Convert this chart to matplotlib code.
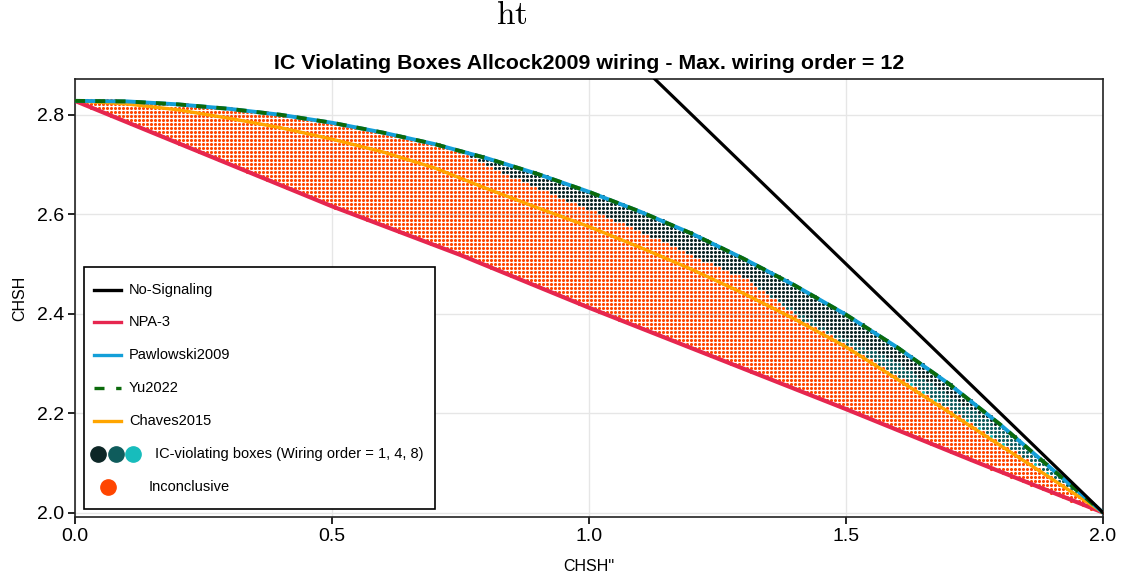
import numpy as np
import matplotlib.pyplot as plt
from matplotlib.patches import Rectangle
from matplotlib.lines import Line2D

plt.rcParams['font.family'] = ['Liberation Sans', 'DejaVu Sans']

# curvas (CHSH'' -> CHSH)
ns_x = [1.0, 2.0]
ns_y = [3.0, 2.0]

npa_x = [0.0, 0.25, 0.5, 0.75, 1.0, 1.25, 1.5, 1.75, 2.0]
npa_y = [2.828, 2.722, 2.616, 2.518, 2.412, 2.310, 2.208, 2.103, 2.000]

paw_x = [0.0, 0.1, 0.2, 0.3, 0.4, 0.5, 0.6, 0.7, 0.8, 0.9, 1.0,
         1.1, 1.2, 1.3, 1.4, 1.5, 1.6, 1.7, 1.8, 1.9, 2.0]
paw_y = [2.828, 2.827, 2.821, 2.812, 2.800, 2.784, 2.764, 2.741, 2.713, 2.681, 2.645,
         2.605, 2.561, 2.511, 2.457, 2.398, 2.332, 2.259, 2.177, 2.088, 2.000]

chaves_x = paw_x
chaves_y = [2.828, 2.822, 2.810, 2.793, 2.774, 2.751, 2.725, 2.693, 2.652, 2.613, 2.575,
            2.533, 2.489, 2.441, 2.389, 2.333, 2.268, 2.202, 2.135, 2.068, 2.000]

# borde inferior de las cajas que violan IC (orden 1, 4, 8)
viol_x = [0.76, 0.8, 0.9, 1.0, 1.1, 1.2, 1.3, 1.36, 1.42, 1.5, 1.6, 1.7, 1.8, 1.9, 2.0]
viol_y = [2.723, 2.697, 2.652, 2.609, 2.565, 2.516, 2.472, 2.430, 2.383, 2.338, 2.273, 2.207, 2.140, 2.072, 2.000]

w1_x = [1.3, 1.45, 1.6, 1.8, 1.95]
w1_y = [2.472, 2.375, 2.300, 2.170, 2.050]

w8_x = [1.6, 1.7, 1.8, 1.9]
w8_y = [2.275, 2.209, 2.142, 2.075]

# malla de cajas muestreadas
dx = 0.00778
dy = 0.00805
gx, gy = np.meshgrid(np.arange(0, 2.0 + 1e-9, dx), np.arange(2.0, 2.83, dy))
gx = gx.ravel()
gy = gy.ravel()
inside = (gy >= np.interp(gx, npa_x, npa_y) - 0.002) & (gy <= np.interp(gx, paw_x, paw_y) + 0.002)
gx = gx[inside]
gy = gy[inside]
viol = (gx >= viol_x[0]) & (gy > np.interp(gx, viol_x, viol_y))
w4 = viol & (gx > w1_x[0]) & (gy < np.interp(gx, w1_x, w1_y, right=9))
w8 = viol & (gx >= w8_x[0]) & (gx <= w8_x[-1]) & (gy < np.interp(gx, w8_x, w8_y))
w4 = w4 & ~w8
w1 = viol & ~w4 & ~w8

col_inc = '#ff4500'
col_w1 = '#0d2626'
col_w4 = '#0f5c5c'
col_w8 = '#17bcbc'

fig = plt.figure(figsize=(11.35, 5.81), dpi=100)
ax = fig.add_axes([75 / 1135, 1 - 517 / 581, 1028 / 1135, 438 / 581])

ms = 5
ax.scatter(gx[~viol], gy[~viol], s=ms, c=col_inc, linewidths=0, zorder=2)
ax.scatter(gx[w1], gy[w1], s=ms, c=col_w1, linewidths=0, zorder=2)
ax.scatter(gx[w4], gy[w4], s=ms, c=col_w4, linewidths=0, zorder=2)
ax.scatter(gx[w8], gy[w8], s=ms, c=col_w8, linewidths=0, zorder=2)

ax.plot(npa_x, npa_y, color='#e6264f', lw=3, zorder=3, solid_capstyle='butt')
ax.plot(chaves_x, chaves_y, color='#ffa500', lw=2.4, zorder=3)
ax.plot(paw_x, paw_y, color='#139fd8', lw=2.8, zorder=4)
ax.plot(paw_x, paw_y, color='#0b6a0b', lw=2.8, ls=(0, (2.6, 2.6)), zorder=5)
ax.plot(ns_x, ns_y, color='black', lw=2.3, zorder=6)

ax.set_xlim(0, 2.0)
ax.set_ylim(1.991, 2.872)
ax.set_xticks([0.0, 0.5, 1.0, 1.5, 2.0])
ax.set_yticks([2.0, 2.2, 2.4, 2.6, 2.8])
ax.tick_params(labelsize=14, length=5, width=1.2, direction='out', pad=3)
ax.tick_params(top=False, right=False)
ax.grid(True, color='#e6e6e6', lw=1)
ax.set_axisbelow(True)
for sp in ax.spines.values():
    sp.set_linewidth(1.2)
    sp.set_color('#222222')

ax.set_xlabel("CHSH''", fontsize=11.5, labelpad=10)
ax.set_ylabel('CHSH', fontsize=11.5, labelpad=7)
ax.set_title('IC Violating Boxes Allcock2009 wiring - Max. wiring order = 12',
             fontsize=15.4, fontweight='bold', pad=7)
fig.text(512 / 1135, 1 - 16 / 581, r'$\mathrm{ht}$', math_fontfamily='cm',
         fontsize=24, ha='center', va='center')

# leyenda dibujada a mano (coordenadas en pixeles de la figura)
def fx(px):
    return px / 1135

def fy(py):
    return 1 - py / 581

fig.patches.append(Rectangle((fx(84), fy(509)), fx(435) - fx(84), fy(267) - fy(509),
                             transform=fig.transFigure, fill=True, facecolor='white',
                             edgecolor='black', lw=1.2, zorder=10))
entries = [('No-Signaling', 'black', '-'),
           ('NPA-3', '#e6264f', '-'),
           ('Pawlowski2009', '#139fd8', '-'),
           ('Yu2022', '#0b6a0b', (0, (3, 3.5))),
           ('Chaves2015', '#ffa500', '-')]
rows = [290, 322, 355, 388, 421, 454, 487]
for (lab, c, ls), r in zip(entries, rows):
    fig.lines.append(Line2D([fx(94), fx(121)], [fy(r), fy(r)], color=c, lw=2.4, ls=ls,
                            transform=fig.transFigure, zorder=11))
    fig.text(fx(129), fy(r), lab, fontsize=10.5, va='center', ha='left', zorder=11)
for cx, c in zip([98, 116, 133], [col_w1, col_w4, col_w8]):
    fig.lines.append(Line2D([fx(cx)], [fy(rows[5])], marker='o', ms=11, color=c, mec=c,
                            transform=fig.transFigure, zorder=11))
fig.text(fx(155), fy(rows[5]), 'IC-violating boxes (Wiring order = 1, 4, 8)', fontsize=10.5,
         va='center', ha='left', zorder=11)
fig.lines.append(Line2D([fx(108)], [fy(rows[6])], marker='o', ms=11, color=col_inc, mec=col_inc,
                        transform=fig.transFigure, zorder=11))
fig.text(fx(149), fy(rows[6]), 'Inconclusive', fontsize=10.5, va='center', ha='left', zorder=11)

fig.savefig('out.png', dpi=100)
